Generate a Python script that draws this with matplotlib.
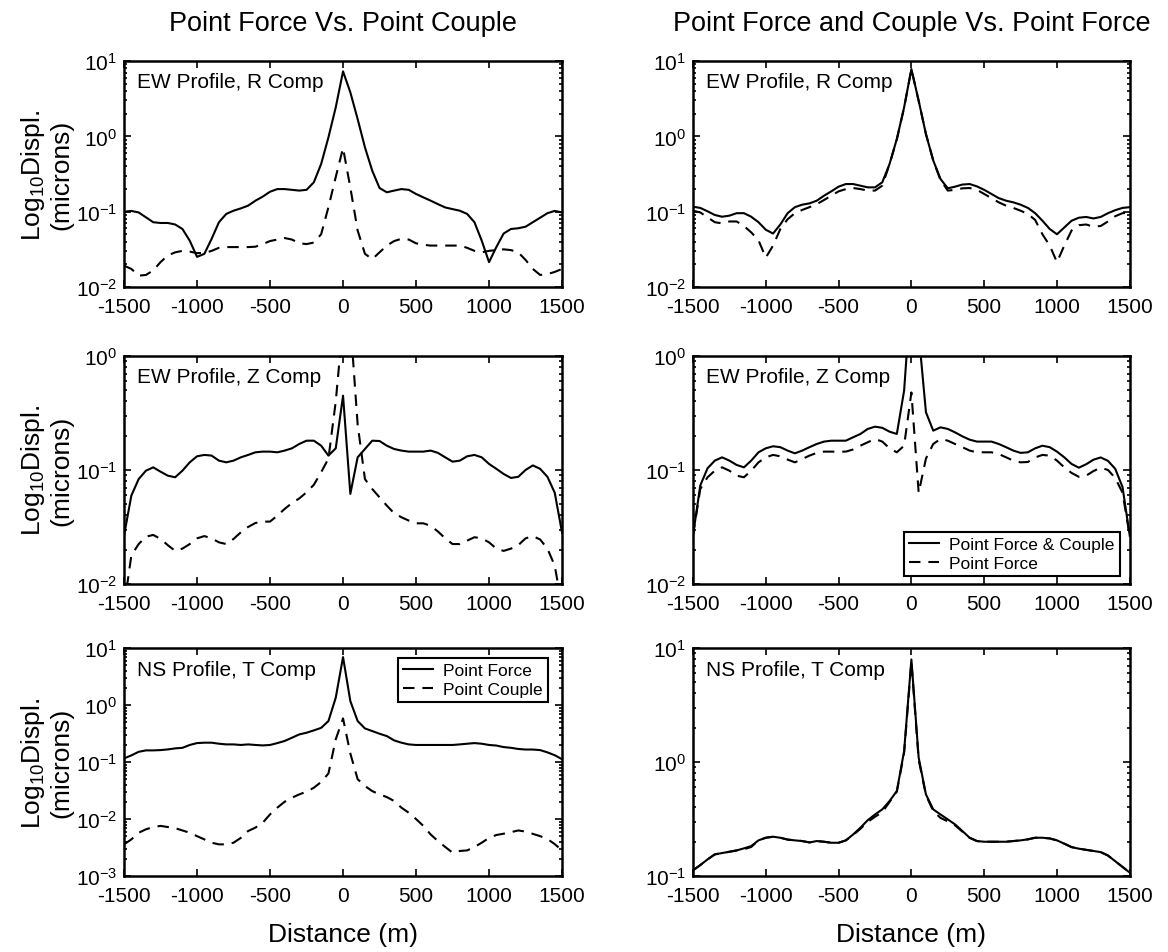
import numpy as np
import matplotlib
matplotlib.use('Agg')
import matplotlib.pyplot as plt
from matplotlib.ticker import LogLocator, NullFormatter

plt.rcParams['font.family'] = ['Liberation Sans', 'DejaVu Sans']
plt.rcParams['mathtext.default'] = 'regular'
plt.rcParams['axes.unicode_minus'] = False

# distance along the profile (m)
dist = np.arange(-1500, 1501, 50)

# log10 of displacement (microns)
# EW profile, R component
ew_r_force = [-1.00, -0.99, -1.01, -1.075, -1.14, -1.15, -1.15, -1.17, -1.23, -1.385,
              -1.60, -1.56, -1.36, -1.14, -1.03, -0.987, -0.956, -0.92, -0.854, -0.80,
              -0.735, -0.70, -0.70, -0.71, -0.72, -0.71, -0.61, -0.367, -0.013, 0.385,
              0.863, 0.584, 0.23, -0.146, -0.456, -0.686, -0.743, -0.72, -0.70, -0.71,
              -0.765, -0.81, -0.854, -0.90, -0.944, -0.966, -0.987, -1.03, -1.14, -1.385,
              -1.67, -1.47, -1.29, -1.23, -1.22, -1.20, -1.14, -1.08, -1.02, -0.99, -1.01]
ew_r_couple = [-1.717, -1.76, -1.85, -1.84, -1.78, -1.67, -1.58, -1.54, -1.52, -1.53,
               -1.55, -1.55, -1.52, -1.48, -1.47, -1.47, -1.47, -1.47, -1.465, -1.43,
               -1.39, -1.37, -1.35, -1.37, -1.42, -1.43, -1.41, -1.30, -0.94, -0.54,
               -0.155, -0.68, -1.25, -1.56, -1.63, -1.54, -1.45, -1.39, -1.36, -1.37,
               -1.42, -1.44, -1.45, -1.45, -1.45, -1.45, -1.45, -1.48, -1.52, -1.54,
               -1.52, -1.51, -1.50, -1.51, -1.54, -1.64, -1.76, -1.84, -1.83, -1.80, -1.76]
ew_r_fc = [-0.934, -0.95, -0.995, -1.044, -1.067, -1.053, -1.02, -1.02, -1.067, -1.14,
           -1.24, -1.29, -1.17, -1.02, -0.94, -0.907, -0.89, -0.854, -0.788, -0.73,
           -0.668, -0.633, -0.633, -0.655, -0.677, -0.677, -0.61, -0.367, -0.035, 0.385,
           0.894, 0.473, 0.03, -0.32, -0.566, -0.69, -0.668, -0.64, -0.633, -0.664,
           -0.71, -0.765, -0.82, -0.854, -0.876, -0.907, -0.95, -1.02, -1.12, -1.23,
           -1.30, -1.21, -1.12, -1.08, -1.07, -1.09, -1.07, -1.02, -0.98, -0.95, -0.94]
ew_r_f = [-0.987, -1.01, -1.075, -1.14, -1.155, -1.13, -1.13, -1.19, -1.275, -1.38,
          -1.61, -1.45, -1.23, -1.10, -1.02, -0.977, -0.94, -0.90, -0.845, -0.788,
          -0.73, -0.70, -0.686, -0.70, -0.72, -0.72, -0.655, -0.37, -0.04, 0.38,
          0.89, 0.47, 0.03, -0.32, -0.58, -0.72, -0.71, -0.69, -0.686, -0.71,
          -0.765, -0.82, -0.876, -0.92, -0.95, -0.987, -1.03, -1.11, -1.30, -1.45,
          -1.67, -1.45, -1.25, -1.18, -1.17, -1.20, -1.19, -1.13, -1.06, -1.02, -1.01]

# EW profile, Z component
ew_z_force = [-1.576, -1.225, -1.08, -1.006, -0.977, -1.015, -1.05, -1.064, -1.006, -0.933,
              -0.88, -0.868, -0.874, -0.918, -0.933, -0.918, -0.889, -0.868, -0.845, -0.839,
              -0.839, -0.845, -0.83, -0.81, -0.772, -0.743, -0.743, -0.787, -0.874, -0.81,
              -0.348, -1.21, -0.889, -0.816, -0.743, -0.746, -0.787, -0.816, -0.83, -0.839,
              -0.839, -0.839, -0.83, -0.85, -0.889, -0.927, -0.918, -0.88, -0.868, -0.889,
              -0.947, -0.99, -1.035, -1.07, -1.06, -1.00, -0.96, -0.99, -1.06, -1.20, -1.55]
ew_z_couple = [-2.2, -1.75, -1.65, -1.585, -1.57, -1.605, -1.66, -1.71, -1.69, -1.65,
               -1.60, -1.58, -1.60, -1.635, -1.65, -1.605, -1.547, -1.50, -1.465, -1.453,
               -1.453, -1.40, -1.342, -1.29, -1.25, -1.196, -1.13, -1.02, -0.90, -0.40,
               0.30, 0.30, -0.60, -1.08, -1.167, -1.24, -1.313, -1.38, -1.415, -1.444,
               -1.468, -1.468, -1.49, -1.54, -1.60, -1.65, -1.65, -1.62, -1.59, -1.60,
               -1.635, -1.69, -1.71, -1.69, -1.66, -1.60, -1.58, -1.61, -1.69, -1.84, -2.2]
ew_z_fc = [-1.576, -1.137, -0.985, -0.918, -0.889, -0.918, -0.956, -0.977, -0.918, -0.845,
           -0.81, -0.792, -0.80, -0.83, -0.854, -0.83, -0.80, -0.772, -0.751, -0.743,
           -0.743, -0.743, -0.713, -0.684, -0.64, -0.62, -0.63, -0.664, -0.684, -0.304,
           0.60, 0.20, -0.494, -0.655, -0.626, -0.64, -0.67, -0.705, -0.734, -0.751,
           -0.751, -0.751, -0.772, -0.80, -0.83, -0.85, -0.845, -0.81, -0.787, -0.80,
           -0.839, -0.889, -0.947, -0.98, -0.95, -0.91, -0.89, -0.92, -0.99, -1.15, -1.58]
ew_z_f = [-1.576, -1.167, -1.064, -1.006, -0.977, -1.006, -1.05, -1.064, -1.006, -0.933,
          -0.889, -0.868, -0.88, -0.909, -0.933, -0.904, -0.874, -0.85, -0.839, -0.839,
          -0.839, -0.839, -0.82, -0.787, -0.757, -0.728, -0.751, -0.81, -0.845, -0.787,
          -0.32, -1.20, -0.90, -0.772, -0.728, -0.743, -0.772, -0.80, -0.83, -0.845,
          -0.845, -0.845, -0.86, -0.889, -0.918, -0.933, -0.93, -0.89, -0.868, -0.874,
          -0.918, -0.977, -1.026, -1.06, -1.05, -1.01, -0.98, -1.00, -1.07, -1.20, -1.58]

# NS profile, T component
ns_t_force = [-0.936, -0.883, -0.82, -0.795, -0.795, -0.79, -0.778, -0.76, -0.75, -0.70,
              -0.667, -0.66, -0.66, -0.678, -0.69, -0.69, -0.70, -0.69, -0.70, -0.708,
              -0.70, -0.667, -0.63, -0.573, -0.515, -0.485, -0.444, -0.40, -0.28, 0.129,
              0.842, 0.07, -0.28, -0.41, -0.456, -0.503, -0.544, -0.62, -0.66, -0.69,
              -0.70, -0.70, -0.70, -0.70, -0.70, -0.70, -0.69, -0.678, -0.667, -0.678,
              -0.70, -0.71, -0.737, -0.75, -0.77, -0.78, -0.78, -0.79, -0.83, -0.88, -0.95]
ns_t_couple = [-2.444, -2.357, -2.24, -2.18, -2.14, -2.12, -2.14, -2.16, -2.20, -2.24,
               -2.30, -2.357, -2.415, -2.444, -2.444, -2.415, -2.33, -2.21, -2.15, -2.064,
               -1.918, -1.80, -1.696, -1.626, -1.567, -1.52, -1.45, -1.35, -1.20, -0.60,
               -0.234, -0.85, -1.30, -1.42, -1.51, -1.567, -1.614, -1.684, -1.80, -1.889,
               -2.00, -2.12, -2.27, -2.386, -2.49, -2.59, -2.56, -2.55, -2.49, -2.415,
               -2.33, -2.28, -2.257, -2.23, -2.20, -2.22, -2.26, -2.30, -2.35, -2.44, -2.55]
ns_t_fc = [-0.95, -0.904, -0.854, -0.81, -0.798, -0.787, -0.775, -0.757, -0.737, -0.687,
           -0.664, -0.655, -0.664, -0.68, -0.687, -0.693, -0.705, -0.693, -0.699, -0.708,
           -0.708, -0.687, -0.635, -0.576, -0.51, -0.46, -0.415, -0.342, -0.254, 0.096,
           0.90, 0.038, -0.284, -0.415, -0.46, -0.503, -0.547, -0.605, -0.664, -0.693,
           -0.699, -0.699, -0.699, -0.699, -0.693, -0.687, -0.678, -0.664, -0.664, -0.67,
           -0.687, -0.716, -0.746, -0.76, -0.77, -0.78, -0.79, -0.82, -0.87, -0.92, -0.97]
ns_t_f = [-0.95, -0.904, -0.854, -0.81, -0.798, -0.787, -0.775, -0.765, -0.745, -0.687,
          -0.664, -0.655, -0.664, -0.68, -0.687, -0.693, -0.705, -0.693, -0.699, -0.708,
          -0.708, -0.687, -0.64, -0.585, -0.525, -0.48, -0.44, -0.35, -0.26, 0.08,
          0.88, 0.02, -0.29, -0.43, -0.49, -0.52, -0.555, -0.61, -0.664, -0.693,
          -0.699, -0.699, -0.699, -0.699, -0.693, -0.687, -0.678, -0.664, -0.664, -0.67,
          -0.687, -0.716, -0.746, -0.76, -0.77, -0.78, -0.79, -0.82, -0.87, -0.92, -0.97]

col_titles = ['Point Force Vs. Point Couple', 'Point Force and Couple Vs. Point Force']
panel_labels = ['EW Profile, R Comp', 'EW Profile, Z Comp', 'NS Profile, T Comp']
ylims = [[(1e-2, 1e1), (1e-2, 1e1)],
         [(1e-2, 1e0), (1e-2, 1e0)],
         [(1e-3, 1e1), (1e-1, 1e1)]]
series = [[(ew_r_force, ew_r_couple), (ew_r_fc, ew_r_f)],
          [(ew_z_force, ew_z_couple), (ew_z_fc, ew_z_f)],
          [(ns_t_force, ns_t_couple), (ns_t_fc, ns_t_f)]]

fig = plt.figure(figsize=(11.68, 9.53), dpi=100)
lefts = [0.1062, 0.5933]
widths = [0.375, 0.374]
bottoms = [0.6978, 0.3862, 0.0797]
heights = [0.2371, 0.2392, 0.2392]

axes = []
for r in range(3):
    for c in range(2):
        ax = fig.add_axes([lefts[c], bottoms[r], widths[c], heights[r]])
        solid, dashed = series[r][c]
        l1, = ax.semilogy(dist, 10 ** np.array(solid), color='k', lw=1.5)
        l2, = ax.semilogy(dist, 10 ** np.array(dashed), color='k', lw=1.5,
                          dashes=(5.5, 3.8))
        ax.set_xlim(-1500, 1500)
        ax.set_ylim(*ylims[r][c])
        ax.set_xticks([-1500, -1000, -500, 0, 500, 1000, 1500])
        ax.yaxis.set_major_locator(LogLocator(base=10))
        ax.yaxis.set_minor_locator(LogLocator(base=10, subs=np.arange(2, 10)))
        ax.yaxis.set_minor_formatter(NullFormatter())
        ax.tick_params(which='both', direction='in', top=True, right=True,
                       labelsize=15, width=1.2)
        ax.tick_params(which='major', length=5)
        ax.tick_params(which='minor', length=2.5)
        ax.tick_params(axis='x', pad=7)
        ax.tick_params(axis='y', pad=5)
        for s in ax.spines.values():
            s.set_linewidth(1.8)
        ax.text(0.03, 0.91 if r < 2 else 0.905, panel_labels[r], transform=ax.transAxes,
                fontsize=15, va='center', ha='left')
        if c == 0:
            ax.set_ylabel('Log$_{10}$Displ.\n(microns)', fontsize=19, va='center',
                          linespacing=1.1)
            ax.yaxis.set_label_coords(-0.178, 0.5)
        if r == 2:
            ax.set_xlabel('Distance (m)', fontsize=19, va='center')
            ax.xaxis.set_label_coords(0.5, -0.255)
        if r == 0:
            ax.set_title(col_titles[c], fontsize=19.5, pad=22)
        if r == 2 and c == 0:
            leg = ax.legend([l1, l2], ['Point Force', 'Point Couple'], loc='upper right',
                            bbox_to_anchor=(0.968, 0.956), borderaxespad=0,
                            fontsize=12.5, handlelength=1.7, handletextpad=0.6,
                            labelspacing=0.2, borderpad=0.3, fancybox=False,
                            edgecolor='k', framealpha=1)
            leg.get_frame().set_linewidth(1.5)
        if r == 1 and c == 1:
            leg = ax.legend([l1, l2], ['Point Force & Couple', 'Point Force'], loc='lower right',
                            bbox_to_anchor=(0.977, 0.035), borderaxespad=0,
                            fontsize=12.5, handlelength=1.7, handletextpad=0.6,
                            labelspacing=0.2, borderpad=0.3, fancybox=False,
                            edgecolor='k', framealpha=1)
            leg.get_frame().set_linewidth(1.5)
        axes.append(ax)

fig.savefig('out.png', dpi=100)
